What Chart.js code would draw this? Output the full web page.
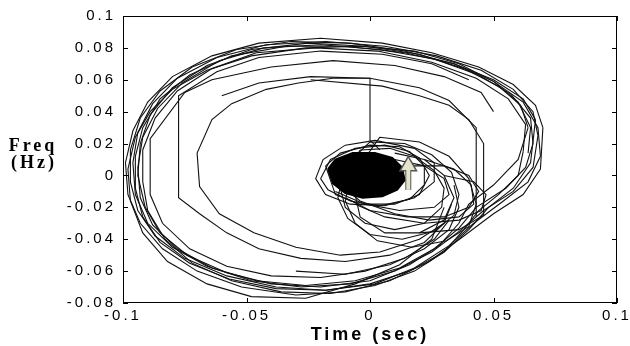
<!DOCTYPE html>
<html>
<head>
<meta charset="utf-8">
<script src="https://cdn.jsdelivr.net/npm/chart.js@4.4.1/dist/chart.umd.min.js"></script>
<style>
  html,body{margin:0;padding:0;background:#fff;}
  #wrap{width:630px;height:346px;position:relative;}
</style>
</head>
<body>
<div id="wrap"><canvas id="c" width="630" height="346"></canvas></div>
<script>
// axis ticks
const xTicks = [-0.1, -0.05, 0, 0.05, 0.1];
const xTickLabels = ['-0.1', '-0.05', '0', '0.05', '0.1'];
const yTicks = [-0.08, -0.06, -0.04, -0.02, 0, 0.02, 0.04, 0.06, 0.08, 0.1];
const yTickLabels = ['-0.08', '-0.06', '-0.04', '-0.02', '0', '0.02', '0.04', '0.06', '0.08', '0.1'];

// big outer loops [time, freq]
const loop1 = [[0.070,0.030],[0.067,0.044],[0.058,0.057],[0.044,0.068],[0.025,0.077],[0.005,0.083],[-0.020,0.086],[-0.045,0.083],[-0.064,0.075],[-0.080,0.062],[-0.090,0.046],[-0.096,0.028],[-0.099,0.008],[-0.098,-0.012],[-0.093,-0.030],[-0.084,-0.046],[-0.070,-0.060],[-0.052,-0.070],[-0.030,-0.075],[-0.010,-0.073],[0.008,-0.066],[0.024,-0.054],[0.038,-0.038],[0.050,-0.024],[0.062,-0.012],[0.069,0.004],[0.070,0.030]];
const loop2 = [[0.068,0.025],[0.066,0.040],[0.058,0.054],[0.045,0.066],[0.027,0.075],[0.006,0.081],[-0.018,0.084],[-0.042,0.082],[-0.062,0.074],[-0.078,0.061],[-0.088,0.045],[-0.094,0.027],[-0.096,0.008],[-0.095,-0.012],[-0.090,-0.030],[-0.080,-0.045],[-0.066,-0.057],[-0.048,-0.066],[-0.028,-0.070],[-0.008,-0.068],[0.010,-0.060],[0.025,-0.048],[0.037,-0.034],[0.046,-0.022],[0.058,-0.010],[0.066,0.005],[0.068,0.025]];
const loop3 = [[0.066,0.020],[0.065,0.036],[0.057,0.051],[0.044,0.063],[0.026,0.073],[0.004,0.079],[-0.020,0.082],[-0.043,0.080],[-0.061,0.072],[-0.076,0.058],[-0.086,0.042],[-0.092,0.024],[-0.094,0.005],[-0.093,-0.014],[-0.088,-0.031],[-0.078,-0.046],[-0.064,-0.058],[-0.046,-0.066],[-0.026,-0.069],[-0.006,-0.066],[0.012,-0.058],[0.026,-0.046],[0.036,-0.033],[0.043,-0.020],[0.055,-0.008],[0.063,0.005],[0.066,0.020]];
const loop4 = [[0.064,0.030],[0.061,0.044],[0.052,0.056],[0.038,0.067],[0.020,0.076],[-0.002,0.081],[-0.025,0.083],[-0.048,0.079],[-0.066,0.069],[-0.080,0.055],[-0.089,0.038],[-0.093,0.020],[-0.094,0.000],[-0.091,-0.020],[-0.085,-0.036],[-0.074,-0.050],[-0.058,-0.061],[-0.040,-0.068],[-0.020,-0.070],[0.000,-0.066],[0.016,-0.056],[0.028,-0.044],[0.036,-0.030],[0.040,-0.018],[0.050,-0.006],[0.060,0.010],[0.064,0.030]];
const loop5 = [[0.062,0.015],[0.063,0.032],[0.056,0.048],[0.043,0.061],[0.025,0.071],[0.003,0.078],[-0.022,0.080],[-0.046,0.077],[-0.064,0.067],[-0.078,0.053],[-0.087,0.036],[-0.092,0.016],[-0.092,-0.004],[-0.090,-0.022],[-0.083,-0.040],[-0.072,-0.055],[-0.056,-0.066],[-0.036,-0.073],[-0.016,-0.074],[0.002,-0.069],[0.018,-0.060],[0.030,-0.048],[0.038,-0.034],[0.044,-0.022],[0.052,-0.012],[0.060,0.000],[0.062,0.015]];
const loop6 = [[0.050,0.040],[0.045,0.052],[0.030,0.062],[0.010,0.069],[-0.015,0.072],[-0.040,0.068],[-0.064,0.060],[-0.075,0.052],[-0.089,0.023],[-0.089,-0.012],[-0.084,-0.030],[-0.073,-0.046],[-0.058,-0.057],[-0.040,-0.063],[-0.020,-0.064],[-0.002,-0.060],[0.014,-0.052],[0.026,-0.040],[0.032,-0.028]];
const loop7 = [[0.040,0.060],[0.025,0.070],[0.005,0.076],[-0.020,0.078],[-0.045,0.074],[-0.062,0.065],[-0.0775,0.050],[-0.0775,-0.014],[-0.069,-0.024],[-0.058,-0.036],[-0.045,-0.046],[-0.028,-0.052],[-0.010,-0.054],[0.008,-0.050],[0.022,-0.042],[0.030,-0.030],[0.033,-0.018]];
const loop8 = [[0.043,-0.026],[0.043,-0.007],[0.043,0.030],[0.032,0.047],[0.020,0.055],[0.000,0.061],[-0.015,0.061],[-0.029,0.058],[-0.042,0.054],[-0.056,0.045],[-0.064,0.035],[-0.070,0.014],[-0.069,-0.007],[-0.061,-0.024],[-0.047,-0.036],[-0.030,-0.045],[-0.012,-0.050],[0.004,-0.048],[0.020,-0.040],[0.030,-0.030]];
const loop9 = [[-0.060,0.050],[-0.045,0.058],[-0.024,0.062],[0.000,0.061],[0.000,0.022],[0.004,0.016]];
const loop10 = [[-0.024,0.060],[0.005,0.056],[0.020,0.050],[0.032,0.044],[0.040,0.035],[0.046,0.020],[0.046,-0.005],[0.046,-0.025],[0.036,-0.034],[0.020,-0.036]];
const loop11 = [[-0.030,-0.060],[-0.010,-0.062],[0.008,-0.056],[0.022,-0.046],[0.032,-0.034],[0.036,-0.020],[0.034,-0.006]];
const loop12 = [[0.069,0.012],[0.068,0.030],[0.062,0.046],[0.050,0.059],[0.034,0.070],[0.014,0.078],[-0.008,0.083],[-0.032,0.084],[-0.054,0.079],[-0.072,0.068],[-0.085,0.053],[-0.093,0.036],[-0.097,0.016],[-0.097,-0.004],[-0.094,-0.022],[-0.087,-0.038],[-0.075,-0.052],[-0.058,-0.063],[-0.038,-0.070],[-0.018,-0.072],[0.002,-0.068],[0.018,-0.058],[0.032,-0.044],[0.042,-0.030],[0.054,-0.016],[0.064,-0.004],[0.069,0.012]];
const loop13 = [[0.067,0.035],[0.062,0.048],[0.050,0.060],[0.034,0.070],[0.014,0.077],[-0.010,0.081],[-0.034,0.081],[-0.056,0.075],[-0.073,0.063],[-0.085,0.048],[-0.092,0.030],[-0.095,0.012],[-0.095,-0.008],[-0.092,-0.026],[-0.085,-0.042],[-0.073,-0.055],[-0.057,-0.065],[-0.038,-0.071],[-0.018,-0.072],[0.000,-0.068],[0.016,-0.060],[0.030,-0.048],[0.040,-0.034],[0.048,-0.020],[0.058,-0.008],[0.065,0.008],[0.067,0.035]];
const loop14 = [[0.030,-0.020],[0.025,-0.040],[0.012,-0.056],[-0.006,-0.068],[-0.026,-0.077],[-0.048,-0.076],[-0.066,-0.068],[-0.082,-0.054],[-0.092,-0.036],[-0.097,-0.016],[-0.098,0.004],[-0.095,0.024],[-0.089,0.040],[-0.080,0.054],[-0.066,0.066],[-0.048,0.075],[-0.026,0.080],[-0.004,0.081],[0.018,0.078],[0.036,0.070],[0.050,0.059],[0.060,0.046],[0.065,0.030],[0.064,0.014]];

// small loops around the core
const small1 = [[-0.004,0.016],[0.008,0.017],[0.018,0.012],[0.026,0.003],[0.030,-0.008],[0.029,-0.020],[0.022,-0.030],[0.010,-0.034],[-0.002,-0.030],[-0.010,-0.020],[-0.012,-0.008],[-0.008,0.006],[-0.004,0.016]];
const small2 = [[0.000,0.021],[0.014,0.020],[0.025,0.013],[0.033,0.002],[0.036,-0.012],[0.034,-0.025],[0.026,-0.035],[0.013,-0.040],[0.000,-0.037],[-0.009,-0.027],[-0.013,-0.014],[-0.011,0.000],[-0.006,0.012],[0.000,0.021]];
const small3 = [[0.004,0.024],[0.020,0.021],[0.032,0.012],[0.040,-0.002],[0.043,-0.018],[0.040,-0.032],[0.031,-0.041],[0.017,-0.045],[0.003,-0.041],[-0.006,-0.030],[-0.010,-0.016],[-0.008,-0.002],[0.004,0.024]];
const small4 = [[-0.020,-0.002],[-0.016,0.010],[-0.006,0.017],[0.006,0.019],[0.016,0.015],[0.022,0.006],[0.022,-0.006],[0.016,-0.015],[0.004,-0.019],[-0.008,-0.016],[-0.017,-0.009],[-0.020,-0.002]];
const small5 = [[-0.018,0.006],[-0.012,0.014],[0.000,0.019],[0.012,0.018],[0.020,0.011],[0.024,0.000],[0.020,-0.012],[0.010,-0.018],[-0.004,-0.018],[-0.014,-0.012],[-0.018,0.006]];
const small6 = [[-0.010,-0.014],[0.000,-0.022],[0.015,-0.026],[0.030,-0.026],[0.040,-0.020],[0.044,-0.010],[0.040,0.000],[0.030,0.006],[0.018,0.006],[0.008,0.002]];
const small7 = [[-0.006,-0.018],[0.006,-0.026],[0.022,-0.030],[0.036,-0.028],[0.045,-0.022],[0.047,-0.012],[0.042,-0.004],[0.030,0.000]];
const small8 = [[-0.014,-0.010],[-0.002,-0.018],[0.012,-0.022],[0.026,-0.020],[0.032,-0.012],[0.030,-0.002],[0.022,0.006],[0.010,0.010]];
const small9 = [[0.002,0.022],[-0.010,0.019],[-0.019,0.010],[-0.022,-0.002],[-0.018,-0.012],[-0.008,-0.018],[0.006,-0.019],[0.018,-0.014],[0.026,-0.004],[0.026,0.008],[0.018,0.017],[0.002,0.022]];
const small10 = [[-0.012,-0.006],[-0.004,-0.016],[0.010,-0.024],[0.024,-0.028],[0.036,-0.026],[0.042,-0.018],[0.041,-0.006],[0.034,0.004],[0.022,0.010]];
const small11 = [[0.010,0.014],[0.022,0.010],[0.030,0.000],[0.034,-0.014],[0.030,-0.028],[0.020,-0.036],[0.006,-0.036],[-0.004,-0.026],[-0.006,-0.012]];

// dense core
const core = [[-0.017,0.004],[-0.014,0.010],[-0.007,0.014],[0.002,0.014],[0.009,0.011],[0.013,0.005],[0.014,-0.003],[0.011,-0.009],[0.005,-0.013],[-0.003,-0.014],[-0.010,-0.011],[-0.015,-0.005],[-0.017,0.004]];

// marker arrow
const arrow = [[0.0155,-0.009],[0.0155,0.006]];

const pts = a => a.map(p => ({x: p[0], y: p[1]}));
const trace = a => ({data: pts(a), borderColor: '#111', borderWidth: 1.1, pointRadius: 0, tension: 0, fill: false});

const datasets = [
  {data: pts(arrow), borderColor: '#e4e4cc', borderWidth: 4, pointRadius: [0, 4], pointStyle: 'triangle', pointBackgroundColor: '#e4e4cc', pointBorderColor: '#e4e4cc', fill: false},
  {data: pts(arrow), borderColor: '#555', borderWidth: 6, pointRadius: [0, 5], pointStyle: 'triangle', pointBackgroundColor: '#555', pointBorderColor: '#555', fill: false},
  {data: pts(core), borderColor: '#000', borderWidth: 2, backgroundColor: '#000', pointRadius: 0, fill: 'shape'},
];
[loop1, loop2, loop3, loop4, loop5, loop6, loop7, loop8, loop9, loop10, loop11, loop12, loop13, loop14,
 small1, small2, small3, small4, small5, small6, small7, small8, small9, small10, small11].forEach(a => datasets.push(trace(a)));

const frame = {
  id: 'frame',
  beforeDraw(chart){ chart.ctx.letterSpacing = '3px'; },
  afterDraw(chart){
    const ctx = chart.ctx, a = chart.chartArea;
    ctx.save();
    ctx.strokeStyle = '#000'; ctx.lineWidth = 1;
    ctx.strokeRect(a.left + 0.5, a.top + 0.5, a.right - a.left - 1, a.bottom - a.top - 1);
    ctx.beginPath();
    chart.scales.x.ticks.forEach(t => {
      const px = Math.round(chart.scales.x.getPixelForValue(t.value)) + 0.5;
      ctx.moveTo(px, a.bottom); ctx.lineTo(px, a.bottom - 5);
      ctx.moveTo(px, a.top); ctx.lineTo(px, a.top + 5);
    });
    chart.scales.y.ticks.forEach(t => {
      const py = Math.round(chart.scales.y.getPixelForValue(t.value)) + 0.5;
      ctx.moveTo(a.left, py); ctx.lineTo(a.left + 5, py);
      ctx.moveTo(a.right, py); ctx.lineTo(a.right - 5, py);
    });
    ctx.stroke();
    ctx.fillStyle = '#000';
    ctx.font = 'bold 18px "Liberation Serif"';
    ctx.letterSpacing = '3px';
    ctx.textAlign = 'center'; ctx.textBaseline = 'alphabetic';
    ctx.fillText('Freq', 33, 151);
    ctx.fillText('(Hz)', 34, 168);
    ctx.restore();
  }
};

new Chart(document.getElementById('c'), {
  type: 'line',
  data: {datasets},
  options: {
    responsive: false,
    animation: false,
    layout: {padding: {top: 16, right: 13, left: 0, bottom: 0}},
    plugins: {legend: {display: false}, tooltip: {enabled: false}},
    scales: {
      x: {
        type: 'linear', min: -0.1, max: 0.1,
        grid: {display: false, drawTicks: false},
        border: {display: false},
        afterBuildTicks: s => { s.ticks = xTicks.map(v => ({value: v})); },
        ticks: {padding: 4, color: '#000', font: {family: '"Liberation Sans"', size: 15}, maxRotation: 0,
                callback: (v, i) => xTickLabels[i]},
        title: {display: true, text: 'Time (sec)', color: '#000', padding: {bottom: 0, top: 0},
                font: {family: '"Liberation Sans"', size: 18, weight: 'bold'}},
        afterFit: s => { s.height = 43; s.paddingLeft = 0; s.paddingRight = 0; }
      },
      y: {
        type: 'linear', min: -0.08, max: 0.1,
        grid: {display: false, drawTicks: false},
        border: {display: false},
        afterBuildTicks: s => { s.ticks = yTicks.map(v => ({value: v})); },
        ticks: {padding: 7, color: '#000', font: {family: '"Liberation Sans"', size: 15},
                callback: (v, i) => yTickLabels[i]},
        afterFit: s => { s.width = 123; s.paddingTop = 0; s.paddingBottom = 0; }
      }
    }
  },
  plugins: [frame]
});
</script>
</body>
</html>
